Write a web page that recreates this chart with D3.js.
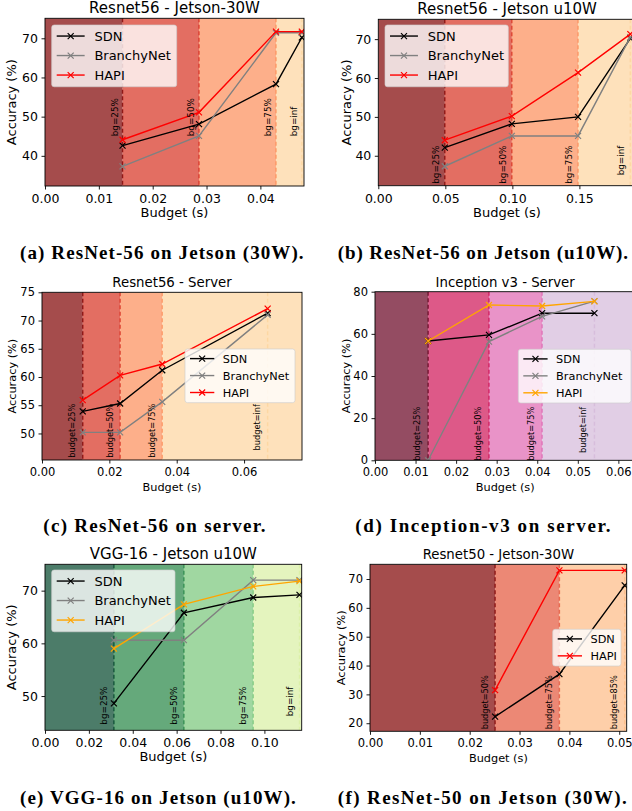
<!DOCTYPE html>
<html>
<head>
<meta charset="utf-8">
<script src="https://cdn.jsdelivr.net/npm/d3@7"></script>
<style>
  body { margin: 0; background: #fff; }
  svg { display: block; }
  text { font-family: "DejaVu Sans", sans-serif; fill: #000; }
  .caption { font-family: "Liberation Serif", serif; font-weight: bold; letter-spacing: 1.1px; }
</style>
</head>
<body>
<svg id="fig" width="632" height="811"></svg>
<script>
// ---- data ----
const seriesNames = ["SDN", "BranchyNet", "HAPI"];

// (a) ResNet-56 on Jetson 30W
const budgetsA = [0.0144, 0.0286, 0.0429, 0.0477];
const sdnA     = [42.6, 48.1, 58.3, 70.2];
const branchyA = [37.3, 45.1, 71.4, 71.4];
const hapiA    = [44.1, 51.1, 71.7, 71.7];
const labelsA  = ["bg=25%", "bg=50%", "bg=75%", "bg=inf"];

// (b) ResNet-56 on Jetson u10W
const budgetsB = [0.0496, 0.0996, 0.149, 0.188];
const sdnB     = [42.1, 48.2, 50.0, 70.2];
const branchyB = [37.3, 45.1, 45.1, 70.5];
const hapiB    = [44.0, 50.2, 61.4, 71.3];
const labelsB  = ["bg=25%", "bg=50%", "bg=75%", "bg=inf"];

// (c) ResNet-56 on server
const budgetsC = [0.0121, 0.0232, 0.0357, 0.0670];
const sdnC     = [53.9, 55.3, 61.2, 71.3];
const branchyC = [50.2, 50.2, 55.6, 71.0];
const hapiC    = [55.9, 60.3, 62.3, 72.1];
const labelsC  = ["budget=25%", "budget=50%", "budget=75%", "budget=inf"];

// (d) Inception-v3 on server
const budgetsD = [0.0131, 0.0281, 0.0412, 0.0541];
const sdnD     = [56.6, 59.5, 69.8, 69.8];
const branchyD = [0, 56.3, 68.3, 75.5];
const hapiD    = [56.6, 73.7, 73.2, 75.4];
const labelsD  = ["budget=25%", "budget=50%", "budget=75%", "budget=inf"];

// (e) VGG-16 on Jetson u10W
const budgetsE = [0.0314, 0.0633, 0.0949, 0.116];
const sdnE     = [48.6, 65.8, 68.7, 69.2];
const branchyE = [60.6, 60.6, 72.0, 72.0];
const hapiE    = [59.0, 67.4, 70.8, 71.8];
const labelsE  = ["bg=25%", "bg=50%", "bg=75%", "bg=inf"];

// (f) ResNet-50 on Jetson 30W
const budgetsF = [0.0251, 0.0380, 0.0511];
const sdnF     = [22.3, 37.0, 67.8];
const hapiF    = [31.5, 73.0, 73.0];
const labelsF  = ["budget=50%", "budget=75%", "budget=85%"];

// tick values
const xTicksA = [0, 0.01, 0.02, 0.03, 0.04],  yTicksA = [40, 50, 60, 70];
const xTicksB = [0, 0.05, 0.10, 0.15],        yTicksB = [40, 50, 60, 70];
const xTicksC = [0, 0.02, 0.04, 0.06],        yTicksC = [50, 55, 60, 65, 70, 75];
const xTicksD = [0, 0.01, 0.02, 0.03, 0.04, 0.05, 0.06], yTicksD = [0, 20, 40, 60, 80];
const xTicksE = [0, 0.02, 0.04, 0.06, 0.08, 0.10], yTicksE = [50, 60, 70];
const xTicksF = [0, 0.01, 0.02, 0.03, 0.04, 0.05], yTicksF = [20, 30, 40, 50, 60, 70];

// background palettes
const orRd = ["#7f0000", "#d7301f", "#fc8d59", "#fdd49e"];
const puRd = ["#67001f", "#ce1256", "#df65b0", "#d4b9da"];
const ylGn = ["#004529", "#238443", "#78c679", "#d9f0a3"];
const orRd3 = ["#7f0000", "#e4553a", "#fdbb84"];

const svg = d3.select("#fig");
const marker = "M-3,-3L3,3M-3,3L3,-3";

const panels = [
  { id: "a", title: "Resnet56 - Jetson-30W", caption: "(a) ResNet-56 on Jetson (30W).",
    box: {left: 45, right: 304, top: 18.3, bottom: 186}, xMax: 0.0481, yDom: [32.3, 75.1],
    xTicks: xTicksA, yTicks: yTicksA, budgets: budgetsA, labels: labelsA, palette: orRd,
    series: [sdnA, branchyA, hapiA], colors: ["#000", "#808080", "#ff0000"], names: seriesNames,
    big: true, labY: 45, labAnchor: "start", labOff: 4.7,
    legend: {x: 51.7, y: 25, w: 125}, yLabX: 16, capX: 20, capY: 259, capSp: 1.1 },
  { id: "b", title: "Resnet56 - Jetson u10W", caption: "(b) ResNet-56 on Jetson (u10W).",
    box: {left: 378.3, right: 635.7, top: 19.3, bottom: 185.7}, xMax: 0.192, yDom: [32.3, 75.1],
    xTicks: xTicksB, yTicks: yTicksB, budgets: budgetsB, labels: labelsB, palette: orRd,
    series: [sdnB, branchyB, hapiB], colors: ["#000", "#808080", "#ff0000"], names: seriesNames,
    big: true, labY: 42.6, labAnchor: "end", labOff: 6,
    legend: {x: 385, y: 25, w: 123.3}, yLabX: 351, capX: 337.7, capY: 259, capSp: 0.9 },
  { id: "c", title: "Resnet56 - Server", caption: "(c) ResNet-56 on server.",
    box: {left: 42, right: 302, top: 292.3, bottom: 460}, xMax: 0.0772, yDom: [45.3, 75],
    xTicks: xTicksC, yTicks: yTicksC, budgets: budgetsC, labels: labelsC, palette: orRd,
    series: [sdnC, branchyC, hapiC], colors: ["#000", "#808080", "#ff0000"], names: seriesNames,
    big: false, labY: [45.7, 45.7, 45.7, 47.0], labAnchor: "start", labOff: 7.3,
    legend: {x: 185, y: 349, w: 110}, yLabX: 16.3, capX: 43.3, capY: 532, capSp: 1.3 },
  { id: "d", title: "Inception v3 - Server", caption: "(d) Inception-v3 on server.",
    box: {left: 375, right: 635.4, top: 291.7, bottom: 460.3}, xMax: 0.0642, yDom: [0, 80],
    xTicks: xTicksD, yTicks: yTicksD, budgets: budgetsD, labels: labelsD, palette: puRd,
    series: [sdnD, branchyD, hapiD], colors: ["#000", "#808080", "#ffa500"], names: seriesNames,
    big: false, labY: 25.4, labAnchor: "end", labOff: 8,
    legend: {x: 518.3, y: 349.3, w: 112.7}, yLabX: 350, capX: 355.3, capY: 532, capSp: 1.6 },
  { id: "e", title: "VGG-16 - Jetson u10W", caption: "(e) VGG-16 on Jetson (u10W).",
    box: {left: 45, right: 301.7, top: 564.3, bottom: 730.3}, xMax: 0.117, yDom: [43.5, 75],
    xTicks: xTicksE, yTicks: yTicksE, budgets: budgetsE, labels: labelsE, palette: ylGn,
    series: [sdnE, branchyE, hapiE], colors: ["#000", "#808080", "#ffa500"], names: seriesNames,
    big: true, labY: 51.8, labAnchor: "end", labOff: 7,
    legend: {x: 51.7, y: 570, w: 123.3}, yLabX: 16, capX: 20, capY: 804, capSp: 1.1 },
  { id: "f", title: "Resnet50 - Jetson-30W", caption: "(f) ResNet-50 on Jetson (30W).",
    box: {left: 370, right: 626.7, top: 564.3, bottom: 731.3}, xMax: 0.0515, yDom: [17.2, 75.1],
    xTicks: xTicksF, yTicks: yTicksF, budgets: budgetsF, labels: labelsF, palette: orRd3,
    series: [sdnF, hapiF], colors: ["#000", "#ff0000"], names: ["SDN", "HAPI"],
    big: false, labY: 17.9, labAnchor: "start", labOff: 7.6,
    legend: {x: 552.7, y: 629.3, w: 68.3}, yLabX: 345, capX: 337.7, capY: 804, capSp: 1.4 }
];

panels.forEach(drawPanel);

function drawPanel(p) {
  const b = p.box;
  const fsTitle = p.big ? 15 : 13.3;
  const fsTick = p.big ? 12.5 : 11.5;
  const fsLab = p.big ? 13 : 11.3;
  const fsLeg = p.big ? 13 : 11.3;
  const fsAnn = p.big ? 8.8 : 8.2;

  const x = d3.scaleLinear().domain([0, p.xMax]).range([b.left, b.right]);
  const y = d3.scaleLinear().domain(p.yDom).range([b.bottom, b.top]);

  const g = svg.append("g").attr("class", "panel-" + p.id);

  svg.append("clipPath").attr("id", "clip-" + p.id)
    .append("rect")
      .attr("x", b.left).attr("y", b.top)
      .attr("width", b.right - b.left).attr("height", b.bottom - b.top);

  const plot = g.append("g").attr("clip-path", `url(#clip-${p.id})`);

  // background regions between budget lines
  const edges = [0].concat(p.budgets.slice(0, p.palette.length - 1), [p.xMax]);
  plot.selectAll("rect.region")
    .data(p.palette)
    .join("rect")
      .attr("class", "region")
      .attr("x", (d, i) => x(edges[i]))
      .attr("width", (d, i) => x(edges[i + 1]) - x(edges[i]))
      .attr("y", b.top)
      .attr("height", b.bottom - b.top)
      .attr("fill", d => d)
      .attr("fill-opacity", 0.7);

  // dashed budget lines
  plot.selectAll("line.vl")
    .data(p.budgets)
    .join("line")
      .attr("class", "vl")
      .attr("x1", d => x(d)).attr("x2", d => x(d))
      .attr("y1", b.top).attr("y2", b.bottom)
      .attr("stroke", (d, i) => p.palette[Math.min(i, p.palette.length - 1)])
      .attr("stroke-opacity", 0.8)
      .attr("stroke-width", 1.4)
      .attr("stroke-dasharray", "4,2.5");

  // series
  const line = d3.line().x(d => x(d[0])).y(d => y(d[1]));
  p.series.forEach((vals, si) => {
    const pts = vals.map((v, i) => [p.budgets[i], v]);
    plot.append("path")
      .datum(pts)
      .attr("d", line)
      .attr("fill", "none")
      .attr("stroke", p.colors[si])
      .attr("stroke-width", 1.4);
    plot.selectAll(null)
      .data(pts)
      .join("path")
        .attr("transform", d => `translate(${x(d[0])},${y(d[1])})`)
        .attr("d", marker)
        .attr("stroke", p.colors[si])
        .attr("stroke-width", 1.2);
  });

  // budget annotations (rotated)
  g.selectAll("text.ann")
    .data(p.labels)
    .join("text")
      .attr("class", "ann")
      .attr("transform", (d, i) => {
        const ly = Array.isArray(p.labY) ? p.labY[i] : p.labY;
        return `translate(${x(p.budgets[i]) - p.labOff},${y(ly)}) rotate(-90)`;
      })
      .attr("text-anchor", p.labAnchor)
      .attr("font-size", fsAnn)
      .text(d => d);

  // axes
  const xAxis = d3.axisBottom(x).tickValues(p.xTicks).tickFormat(d3.format(".2f"))
    .tickSize(3.5).tickPadding(4.5).tickSizeOuter(0);
  const yAxis = d3.axisLeft(y).tickValues(p.yTicks).tickFormat(d3.format("d"))
    .tickSize(3.5).tickPadding(3.5).tickSizeOuter(0);

  const xg = g.append("g").attr("transform", `translate(0,${b.bottom})`).call(xAxis);
  const yg = g.append("g").attr("transform", `translate(${b.left},0)`).call(yAxis);
  [xg, yg].forEach(ax => {
    ax.select(".domain").remove();
    ax.selectAll("text").attr("font-size", fsTick).attr("font-family", "DejaVu Sans").attr("fill", "#000");
    ax.selectAll("line").attr("stroke", "#000").attr("stroke-width", 0.9);
  });

  // frame
  g.append("rect")
    .attr("x", b.left).attr("y", b.top)
    .attr("width", b.right - b.left).attr("height", b.bottom - b.top)
    .attr("fill", "none").attr("stroke", "#000").attr("stroke-width", 0.9);

  // legend
  const L = p.legend;
  const n = p.names.length;
  const lh = (n - 1) * 1.5 * fsLeg + 1.75 * fsLeg;
  const lg = g.append("g");
  lg.append("rect")
    .attr("x", L.x).attr("y", L.y).attr("width", L.w).attr("height", lh)
    .attr("rx", 2.5)
    .attr("fill", "#fff").attr("fill-opacity", 0.8)
    .attr("stroke", "#ccc").attr("stroke-opacity", 0.8).attr("stroke-width", 0.8);
  p.names.forEach((name, i) => {
    const ry = L.y + 0.85 * fsLeg + i * 1.5 * fsLeg;
    const hx0 = L.x + 5, hx1 = hx0 + 2.15 * fsLeg;
    lg.append("line")
      .attr("x1", hx0).attr("x2", hx1).attr("y1", ry).attr("y2", ry)
      .attr("stroke", p.colors[i]).attr("stroke-width", 1.4);
    lg.append("path")
      .attr("transform", `translate(${(hx0 + hx1) / 2},${ry})`)
      .attr("d", marker).attr("stroke", p.colors[i]).attr("stroke-width", 1.2);
    lg.append("text")
      .attr("x", hx1 + 0.75 * fsLeg).attr("y", ry)
      .attr("dy", "0.36em")
      .attr("font-size", fsLeg)
      .text(name);
  });

  // title & labels
  g.append("text")
    .attr("x", (b.left + b.right) / 2).attr("y", b.top - 5)
    .attr("text-anchor", "middle").attr("font-size", fsTitle)
    .text(p.title);

  g.append("text")
    .attr("x", (b.left + b.right) / 2).attr("y", b.bottom + 31)
    .attr("text-anchor", "middle").attr("font-size", fsLab)
    .text("Budget (s)");

  g.append("text")
    .attr("transform", `translate(${p.yLabX},${(b.top + b.bottom) / 2}) rotate(-90)`)
    .attr("text-anchor", "middle").attr("font-size", fsLab)
    .text("Accuracy (%)");

  svg.append("text")
    .attr("class", "caption")
    .attr("x", p.capX).attr("y", p.capY)
    .attr("font-size", 19)
    .style("letter-spacing", p.capSp + "px")
    .text(p.caption);
}
</script>
</body>
</html>
